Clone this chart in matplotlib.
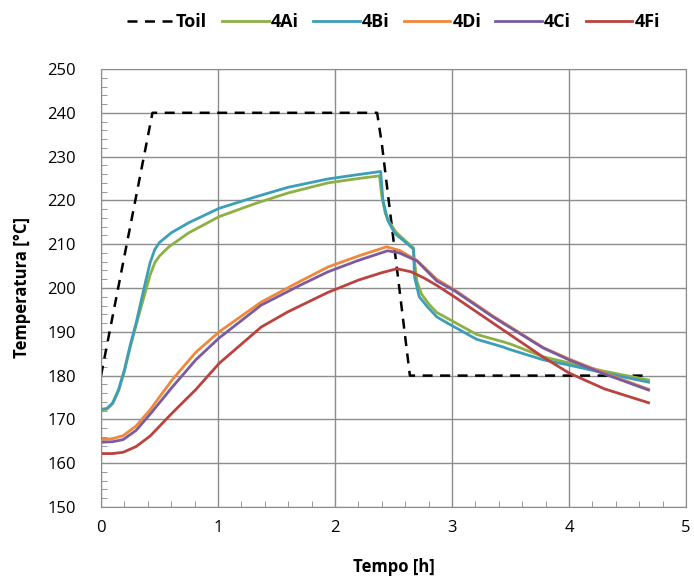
import matplotlib.pyplot as plt
from matplotlib.ticker import MultipleLocator

# Toil setpoint profile
t_oil = [0.0, 0.44, 2.36, 2.40, 2.64, 4.68]
T_oil = [180, 240, 240, 233, 180, 180]

# 4Ai
t_4ai = [0.0, 0.05, 0.1, 0.15, 0.2, 0.25, 0.3, 0.36, 0.42, 0.46, 0.5, 0.58, 0.75, 1.01, 1.32, 1.6, 1.94, 2.2, 2.38,
         2.40, 2.43, 2.47, 2.52, 2.60, 2.67, 2.68, 2.70, 2.74, 2.80, 2.87, 2.96, 3.21, 3.44, 3.5,
         3.78, 4.0, 4.3, 4.68]
T_4ai = [172.2, 172.3, 173.6, 176.5, 181.0, 186.5, 191.5, 197.3, 203.0, 205.8, 207.3, 209.4, 212.6, 216.3, 219.3, 221.7, 224.0, 225.0, 225.6,
         221.0, 217.0, 214.8, 212.8, 210.8, 209.2, 206.0, 201.5, 198.6, 196.4, 194.4, 193.1, 189.4, 187.7, 187.2,
         184.3, 182.9, 181.0, 179.0]

# 4Bi
t_4bi = [0.0, 0.05, 0.1, 0.15, 0.2, 0.25, 0.3, 0.37, 0.42, 0.46, 0.50, 0.60, 0.75, 1.01, 1.32, 1.6, 1.94, 2.2, 2.39,
         2.41, 2.45, 2.51, 2.60, 2.67, 2.68, 2.72, 2.79, 2.87, 2.96, 3.21, 3.44, 3.49, 3.78, 4.0, 4.3, 4.68]
T_4bi = [172.3, 172.5, 173.8, 176.8, 181.3, 187.0, 192.0, 200.2, 205.8, 208.8, 210.4, 212.6, 214.9, 218.2, 220.8, 223.0, 224.9, 225.9, 226.6,
         220.0, 215.5, 212.5, 210.5, 208.9, 202.5, 198.0, 195.7, 193.4, 192.0, 188.3, 186.5, 186.0, 183.6, 182.4, 180.6, 178.5]

# 4Di
t_4di = [0.0, 0.1, 0.19, 0.3, 0.42, 0.61, 0.81, 1.01, 1.37, 1.7, 1.94, 2.2, 2.44, 2.55, 2.7, 2.87, 3.02,
         3.35, 3.78, 4.0, 4.3, 4.68]
T_4di = [165.4, 165.6, 166.3, 168.5, 172.2, 179.1, 185.3, 190.0, 196.8, 201.5, 204.8, 207.3, 209.4, 208.6, 206.3, 202.0, 199.6,
         193.6, 186.4, 183.8, 180.6, 176.9]

# 4Ci
t_4ci = [0.0, 0.1, 0.19, 0.3, 0.42, 0.61, 0.81, 1.01, 1.37, 1.7, 1.94, 2.2, 2.45, 2.55, 2.7, 2.87, 3.02,
         3.35, 3.78, 4.0, 4.3, 4.68]
T_4ci = [164.8, 164.9, 165.4, 167.5, 171.2, 177.4, 183.6, 188.6, 196.1, 200.6, 203.7, 206.3, 208.5, 208.0, 206.2, 201.6, 199.4,
         193.4, 186.3, 183.6, 180.4, 176.7]

# 4Fi
t_4fi = [0.0, 0.1, 0.19, 0.3, 0.42, 0.61, 0.81, 1.01, 1.37, 1.6, 1.94, 2.2, 2.4, 2.53, 2.65, 2.76, 2.87, 3.02,
         3.35, 3.78, 4.0, 4.3, 4.68]
T_4fi = [162.2, 162.2, 162.5, 163.8, 166.2, 171.5, 176.8, 182.8, 191.1, 194.6, 199.0, 201.8, 203.5, 204.4, 203.7, 202.3, 200.6, 198.0,
         192.0, 184.2, 180.6, 177.0, 173.8]

series = [
    ('4Ai', t_4ai, T_4ai, '#8DB045'),
    ('4Bi', t_4bi, T_4bi, '#3C9EB8'),
    ('4Di', t_4di, T_4di, '#F0883A'),
    ('4Ci', t_4ci, T_4ci, '#7A5BA0'),
    ('4Fi', t_4fi, T_4fi, '#BA4340'),
]

plt.rcParams['font.family'] = ['Open Sans', 'DejaVu Sans']

fig = plt.figure(figsize=(6.94, 5.79), dpi=100)
ax = fig.add_axes([101 / 694, 1 - 507 / 579, 585 / 694, 438 / 579])

ax.plot(t_oil, T_oil, color='black', linestyle=(0, (4, 3)), linewidth=1.8, label='Toil')
for name, t, T, c in series:
    ax.plot(t, T, color=c, linewidth=2.0, label=name)

ax.set_xlim(0, 5)
ax.set_ylim(150, 250)
ax.xaxis.set_major_locator(MultipleLocator(1))
ax.xaxis.set_minor_locator(MultipleLocator(0.2))
ax.yaxis.set_major_locator(MultipleLocator(10))
ax.yaxis.set_minor_locator(MultipleLocator(2))
ax.tick_params(which='major', length=0, labelsize=12)
ax.tick_params(axis='y', which='major', pad=18)
ax.tick_params(axis='x', which='major', pad=9)
ax.tick_params(which='minor', direction='in', length=4, color='#888888')
ax.grid(True, which='major', color='#8c8c8c', linewidth=1.0)
ax.set_axisbelow(True)
for s in ax.spines.values():
    s.set_color('#8c8c8c')

ax.set_xlabel('Tempo [h]', fontsize=12, fontweight='bold', labelpad=16)
ax.set_ylabel('Temperatura [°C]', fontsize=12, fontweight='bold', labelpad=12)

ax.legend(loc='lower center', bbox_to_anchor=(0.5, 1.07), ncol=6, frameon=False,
          prop={'weight': 'bold', 'size': 13}, handlelength=2.6, handletextpad=0.1,
          columnspacing=0.8, borderaxespad=0)

fig.savefig('out.png', dpi=100)
